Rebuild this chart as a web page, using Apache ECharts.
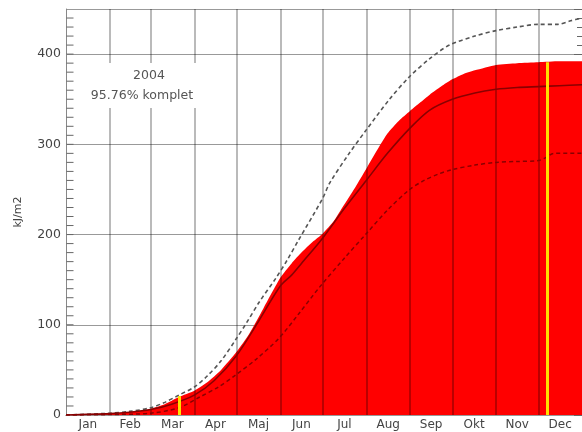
<!DOCTYPE html>
<html><head><meta charset="utf-8">
<script src="https://cdn.jsdelivr.net/npm/echarts@6/dist/echarts.min.js"></script>
<style>html,body{margin:0;padding:0;background:#fff}#c{width:582px;height:432px}</style>
</head><body><div id="c"></div>
<script>
// Month names and the day-of-year each month starts on
const months = ['Jan','Feb','Mar','Apr','Maj','Jun','Jul','Aug','Sep','Okt','Nov','Dec'];
const monthStarts = [0,31,60,91,121,152,182,213,244,274,305,335,366];
const yTickValues = [0,100,200,300,400];
const yMinorStep = 10;
const yMax = 450;

// Observed 2004 cumulative (red area)
const obsDays = [0,15,31,45,60,70,80,91,100,110,121,130,140,152,160,167,175,182,190,196,205,213,222,228,236,244,251,258,266,274,282,290,305,320,335,350,366];
const obsVals = [0,0.5,1,3,7,12,20,27,36,50,70,90,118,152,168,180,192,201,215,230,252,273,297,312,326,337,346,355,364,372,378,382,388,390,391,392,392];

// Upper (dashed grey) curve
const upDays = [0,31,45,60,70,80,91,100,110,121,128,137,149,157,165,182,187,200,213,229,243,258,272,290,305,320,335,349,358,366];
const upVals = [0,2,4,8,14,22,31,43,60,85,102,125,152,172,194,240,257,288,316,349,374,395,410,420,426,430,433,433,437,440];

// Mean (solid) curve
const meanDays = [0,31,45,60,75,91,105,121,137,152,160,167,182,197,213,228,244,258,274,290,305,320,335,350,366];
const meanVals = [0,1.5,3,6,12,22,38,66,105,143,155,168,196,228,260,290,318,338,350,357,361,363,364,365,366];

// Lower (dashed) curve
const lowDays = [0,31,60,80,95,108,120,135,151,165,180,197,213,228,243,254,264,274,290,305,320,335,340,346,366];
const lowVals = [0,0.5,2,8,20,31,44,62,85,112,142,173,201,227,249,260,267,272,277,280,281,282,285,290,290];

// Yellow marker days and their heights
const markerDays = [80,341];
const markerVals = [21,391];

const yearText = '2004';
const completeText = '95.76% komplet';
const yName = 'kJ/m2';

const pair = (d,v) => d.map((x,i)=>[x,v[i]]);
const monthMids = months.map((m,i)=>(monthStarts[i]+monthStarts[i+1])/2);

const W = 582, gridLeft = 66, gridRight = -2;
const plotW = W - gridLeft - gridRight;

// positions of the inward tick marks on the left axis (every minor step)
const leftTickVals = [];
for (let v = yMinorStep; v < yMax; v += yMinorStep) leftTickVals.push([0, v]);

const chart = echarts.init(document.getElementById('c'), null, {renderer:'canvas'});
const font = 'DejaVu Sans';
const tickStyle = {color:'#666', width:1};
const tickAxis = (pos) => ({
  type:'value', min:0, max:yMax, interval:100, position:pos, offset:-plotW,
  axisLine:{show:false}, axisLabel:{show:false}, splitLine:{show:false},
  axisTick:{show:true, inside:false, length:10, lineStyle:tickStyle},
  minorTick:{show:true, splitNumber:10, length:7, lineStyle:tickStyle}
});
chart.setOption({
  animation:false,
  backgroundColor:'#fff',
  grid:{left:gridLeft, top:9, right:gridRight, bottom:17, show:false, containLabel:false},
  xAxis:[{
    type:'value', min:0, max:366, position:'bottom',
    axisLine:{show:true, lineStyle:{color:'#888'}},
    axisTick:{show:false},
    splitLine:{show:false},
    axisLabel:{
      customValues: monthMids,
      formatter:(v)=>{ let best=0; monthMids.forEach((m,i)=>{ if(Math.abs(m-v)<Math.abs(monthMids[best]-v)) best=i; }); return months[best]; },
      color:'#444', fontFamily:font, fontSize:12, margin:4, showMinLabel:true, showMaxLabel:true
    }
  },{
    type:'value', min:0, max:366, position:'top',
    axisLine:{show:true, lineStyle:{color:'#999'}},
    axisTick:{show:false}, axisLabel:{show:false}, splitLine:{show:false}
  }],
  yAxis:[
    {
      type:'value', min:0, max:yMax, interval:100, position:'left',
      name:yName, nameLocation:'middle', nameGap:42,
      nameTextStyle:{color:'#444', fontFamily:font, fontSize:11},
      axisLine:{show:true, lineStyle:{color:'#888'}},
      axisTick:{show:false},
      axisLabel:{color:'#444', fontFamily:font, fontSize:12.5, margin:5,
        formatter:(v)=> yTickValues.indexOf(v)>=0 ? String(v) : ''},
      splitLine:{show:true, lineStyle:{color:'#999', width:1}}
    },
    tickAxis('right'),
    tickAxis('left')
  ],
  series:[
    {type:'line', name:'obs', data:pair(obsDays,obsVals), showSymbol:false, symbol:'none',
     lineStyle:{width:0}, areaStyle:{color:'#ff0000', opacity:1}, itemStyle:{color:'#ff0000'}, z:2, smooth:0.2},
    {type:'line', name:'vgrid', data:[[0,0]], showSymbol:false, symbol:'none', lineStyle:{opacity:0}, z:3,
     markLine:{silent:true, z:3, symbol:['none','none'], label:{show:false},
       lineStyle:{color:'rgba(0,0,0,0.36)', width:1.5, type:'solid'},
       data: monthStarts.slice(1,12).map(d=>({xAxis:d}))}},
    {type:'scatter', name:'lticks', data:leftTickVals, symbol:'rect', symbolSize:[7,1], symbolOffset:[4,0],
     itemStyle:{color:'#666', opacity:1}, silent:true, clip:false, z:10},
    {type:'line', name:'upper', data:pair(upDays,upVals), showSymbol:false, symbol:'none', smooth:0.3,
     lineStyle:{color:'#555', width:1.6, type:[4,3]}, z:4},
    {type:'line', name:'mean', data:pair(meanDays,meanVals), showSymbol:false, symbol:'none', smooth:0.3,
     lineStyle:{color:'#8a0000', width:1.6}, z:4},
    {type:'line', name:'lower', data:pair(lowDays,lowVals), showSymbol:false, symbol:'none', smooth:0.3,
     lineStyle:{color:'#8a0000', width:1.5, type:[4,3]}, z:4},
    {type:'line', name:'markers', data:[[0,0]], showSymbol:false, symbol:'none', lineStyle:{opacity:0}, z:5,
     markLine:{silent:true, z:5, symbol:['none','none'], label:{show:false},
       lineStyle:{color:'#ffe000', width:3, type:'solid'},
       data: markerDays.map((d,i)=>[{coord:[d,0]},{coord:[d,markerVals[i]]}])}}
  ],
  graphic:[
    {type:'rect', shape:{x:76, y:63, width:142, height:45}, style:{fill:'#fff'}, z:100},
    {type:'text', x:149, y:76, style:{text:yearText, fill:'#555', font:'12.5px "DejaVu Sans"', textAlign:'center', textVerticalAlign:'middle'}, z:101},
    {type:'text', x:142, y:96, style:{text:completeText, fill:'#555', font:'12.5px "DejaVu Sans"', textAlign:'center', textVerticalAlign:'middle'}, z:101}
  ]
});
</script></body></html>
